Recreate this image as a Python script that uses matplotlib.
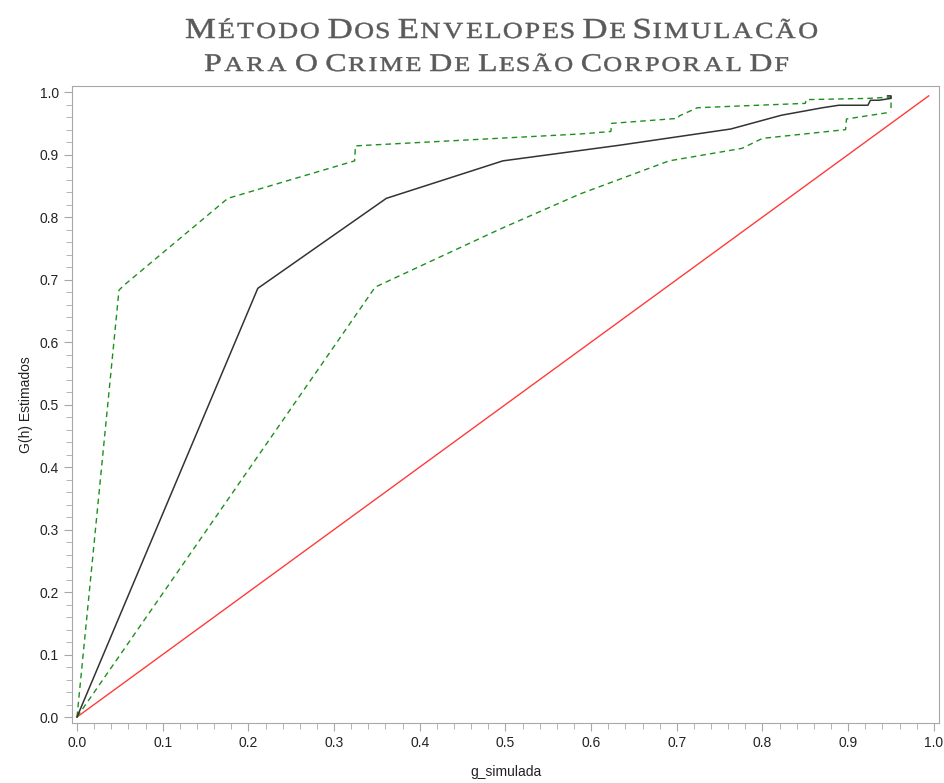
import matplotlib.pyplot as plt
from matplotlib.ticker import MultipleLocator
from matplotlib.textpath import TextPath
from matplotlib.patches import PathPatch
from matplotlib.font_manager import FontProperties
from matplotlib.transforms import Affine2D, IdentityTransform

# curva observada G(h) contra a média simulada
obs_x = [0.0, 0.211, 0.361, 0.497, 0.633, 0.763, 0.822, 0.870, 0.889, 0.923, 0.926, 0.936, 0.950, 0.950, 0.946]
obs_y = [0.0, 0.686, 0.830, 0.890, 0.915, 0.941, 0.963, 0.975, 0.979, 0.979, 0.987, 0.987, 0.990, 0.994, 0.994]

# envelope superior
sup_x = [0.0, 0.047, 0.049, 0.054, 0.176, 0.324, 0.325, 0.587, 0.623, 0.624, 0.701, 0.703, 0.724, 0.776, 0.850, 0.851, 0.924, 0.950, 0.950]
sup_y = [0.0, 0.655, 0.683, 0.690, 0.830, 0.890, 0.914, 0.933, 0.937, 0.950, 0.958, 0.962, 0.975, 0.978, 0.982, 0.988, 0.990, 0.992, 0.968]

# envelope inferior
inf_x = [0.0, 0.348, 0.494, 0.587, 0.691, 0.776, 0.800, 0.897, 0.898, 0.950]
inf_y = [0.0, 0.688, 0.781, 0.837, 0.890, 0.910, 0.926, 0.940, 0.957, 0.968]

# reta de referência
ref_x = [0.0, 0.994]
ref_y = [0.0, 0.994]

titulo = ['MÉTODO DOS ENVELOPES DE SIMULACÃO',
          'PARA O CRIME DE LESÃO CORPORAL DF']

plt.rcParams['font.family'] = ['Liberation Sans', 'DejaVu Sans']

fig = plt.figure(figsize=(9.44, 7.83), dpi=100)
ax = fig.add_axes([0.0763, 0.0766, 0.9184, 0.8134])

ax.plot(ref_x, ref_y, color='#ff3b3b', lw=1.0)
ax.plot(inf_x, inf_y, color='#1e8f1e', lw=1.0, dashes=(4, 3))
ax.plot(sup_x, sup_y, color='#1e8f1e', lw=1.0, dashes=(4, 3))
ax.plot(obs_x, obs_y, color='#333333', lw=1.1)

ax.set_xlim(-0.0058, 1.006)
ax.set_ylim(-0.0096, 1.0096)

ax.xaxis.set_major_locator(MultipleLocator(0.1))
ax.xaxis.set_minor_locator(MultipleLocator(0.02))
ax.yaxis.set_major_locator(MultipleLocator(0.1))
ax.yaxis.set_minor_locator(MultipleLocator(0.02))
ax.xaxis.set_major_formatter(lambda v, p: f'{v:.1f}')
ax.yaxis.set_major_formatter(lambda v, p: f'{v:.1f}')

for s in ax.spines.values():
    s.set_color('#a8a8a8')
ax.tick_params(which='both', color='#a8a8a8', labelcolor='#222222', labelsize=10)
ax.tick_params(which='major', length=6)
ax.tick_params(which='minor', length=4)

ax.set_xlabel('g_simulada', fontsize=10, color='#222222', labelpad=11)
ax.set_ylabel('G(h) Estimados', fontsize=10, color='#222222', labelpad=5)

serif = FontProperties(family='Liberation Serif')


# título em versalete: cada letra vira um contorno, esticado na horizontal
# para que a linha ocupe de x0 a x1 (em pixels)
def versalete(linha, y_base, x0, x1, grande, pequena, espaco=10, track=4):
    letras = []
    inicio = True
    for ch in linha:
        if ch == ' ':
            letras.append(None)
            inicio = True
            continue
        tp = TextPath((0, 0), ch, size=grande if inicio else pequena, prop=serif)
        inicio = False
        letras.append(tp)
    glifos = [tp for tp in letras if tp is not None]
    n_esp = len(letras) - len(glifos)
    n_juntas = len(glifos) - (n_esp + 1)
    largura = sum(tp.get_extents().width for tp in glifos)
    sx = ((x1 - x0) - n_esp * espaco - n_juntas * track) / largura
    x = x0
    primeiro = True
    for tp in letras:
        if tp is None:
            x += espaco
            primeiro = True
            continue
        if not primeiro:
            x += track
        primeiro = False
        ext = tp.get_extents()
        tr = Affine2D().translate(-ext.x0, 0).scale(sx, 1).translate(x, y_base)
        fig.add_artist(PathPatch(tr.transform_path(tp), transform=IdentityTransform(),
                                 fc='#5a5a5a', ec='#5a5a5a', lw=0.35))
        x += ext.width * sx


H = fig.bbox.height
versalete(titulo[0], H - 38, 186, 817, 29, 23)
versalete(titulo[1], H - 71, 205, 788, 25.5, 21)

fig.savefig('out.png', dpi=100)
